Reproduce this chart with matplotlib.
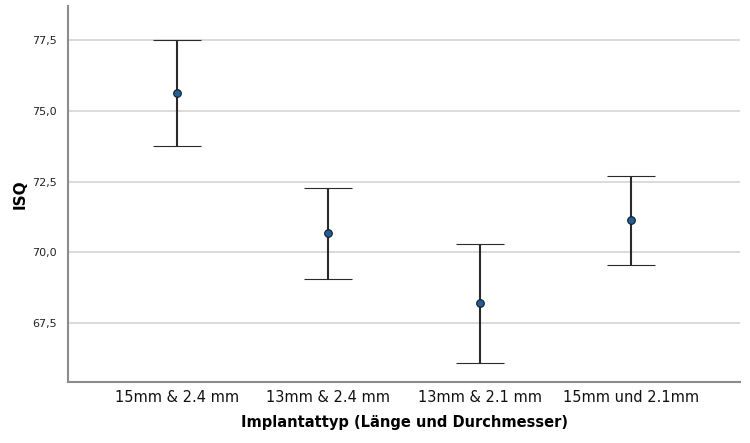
import numpy as np
import matplotlib.pyplot as plt
from matplotlib.ticker import FuncFormatter

CATEGORIES = ['15mm & 2.4 mm', '13mm & 2.4 mm', '13mm & 2.1 mm', '15mm und 2.1mm']
MEANS = [75.63, 70.67, 68.21, 71.13]
UPPER = [77.50, 72.26, 70.28, 72.71]
LOWER = [73.75, 69.05, 66.09, 69.54]


def generate_plot():
    x = np.arange(len(CATEGORIES))
    means = np.array(MEANS)
    err = [means - np.array(LOWER), np.array(UPPER) - means]

    fig = plt.figure(figsize=(7.5, 4.43), dpi=100)
    ax = fig.add_axes([0.0907, 0.138, 0.896, 0.848])

    ax.set_axisbelow(True)
    ax.yaxis.grid(True, color='#d4d4d4', linewidth=1.2)

    ax.errorbar(x, means, yerr=err, fmt='o', color='#2a2a2a', ecolor='#2a2a2a',
                elinewidth=1.5, capsize=17, capthick=1.6,
                markersize=5.5, markerfacecolor='#1f5f9a', markeredgecolor='#1a1a1a',
                markeredgewidth=0.8)

    ax.set_xlim(-0.72, 3.72)
    ax.set_ylim(65.42, 78.7)
    ax.set_yticks([67.5, 70.0, 72.5, 75.0, 77.5])
    ax.yaxis.set_major_formatter(FuncFormatter(lambda v, p: ('%.1f' % v).replace('.', ',')))
    ax.set_xticks(x)
    ax.set_xticklabels(CATEGORIES, fontsize=10.5, color='#111111')
    ax.tick_params(axis='y', length=0, labelsize=8, pad=8, colors='#222222')
    ax.tick_params(axis='x', length=0, pad=6)

    for side in ['top', 'right']:
        ax.spines[side].set_visible(False)
    for side in ['left', 'bottom']:
        ax.spines[side].set_color('#8c8c8c')
        ax.spines[side].set_linewidth(1.5)

    ax.set_ylabel('ISQ', fontsize=11, fontweight='bold', labelpad=3)
    ax.set_xlabel('Implantattyp (Länge und Durchmesser)', fontsize=10.5, fontweight='bold', labelpad=7)

    plt.savefig('out.png')


if __name__ == "__main__":
    generate_plot()
